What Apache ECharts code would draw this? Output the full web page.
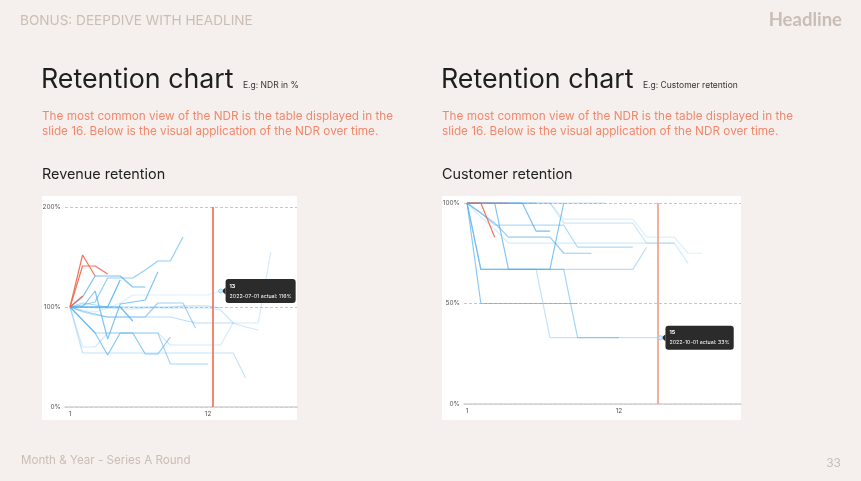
<!DOCTYPE html>
<html>
<head>
<meta charset="utf-8">
<script src="https://cdn.jsdelivr.net/npm/echarts@6/dist/echarts.min.js"></script>
<style>
html,body{margin:0;padding:0;background:#f5f0ed;}
#c{width:861px;height:481px;}
</style>
</head>
<body>
<div id="c"></div>
<script>
// ---------- DATA ----------
const cohortNames = ['2022-07-01','2022-08-01','2022-09-01','2022-10-01','2022-11-01','2022-12-01','2023-01-01','2023-02-01','2023-03-01','2023-04-01','2023-05-01','2023-06-01','2023-07-01','2023-08-01','2023-09-01','2023-10-01','2023-11-01'];
const xTickLabels = [1, 12];
const revYTicks = [0, 100, 200];
const custYTicks = [0, 50, 100];

// Revenue retention (%), one array per cohort, month 1..n
const rev2207 = [100, 97, 95, 99, 104, 112, 112, 112, 112, 112, 112, 112, 116, 116, 116, 116, 117, 105];
const rev2208 = [100, 60, 60, 74, 74, 74, 74, 74, 62, 62, 62, 62, 62, 84, 84, 84, 155];
const rev2209 = [100, 100, 99, 99, 98, 98, 99, 99, 99, 99, 99, 99, 97, 84, 80, 77];
const rev2210 = [100, 54, 54, 54, 54, 54, 54, 54, 54, 54, 54, 54, 54, 54, 29];
const rev2211 = [100, 95, 92, 90, 90, 90, 90, 90, 90, 87, 84, 84, 84, 84];
const rev2212 = [100, 104, 102, 100, 100, 100, 100, 100, 100, 101, 101, 101, 99];
const rev2301 = [100, 87, 74, 74, 74, 74, 74, 74, 43, 43, 43, 43];
const rev2302 = [100, 96, 93, 90, 90, 90, 90, 104, 104, 104, 79];
const rev2303 = [100, 102, 105, 129, 129, 129, 137, 146, 146, 170];
const rev2304 = [100, 87, 74, 52, 74, 74, 53, 53, 70];
const rev2305 = [100, 100, 116, 68, 103, 105, 107, 135];
const rev2306 = [100, 110, 131, 131, 131, 120, 120];
const rev2307 = [100, 100, 100, 100, 100, 86];
const rev2308 = [100, 100, 100, 100, 127];
const rev2309 = [100, 141, 141, 133];
const rev2310 = [100, 152, 131];
const rev2311 = [100, 111];

// Customer retention (%)
const cus2207 = [100, 100, 100, 100, 100, 100, 100, 92, 92, 92, 92, 92, 92, 83, 83, 83, 75, 75];
const cus2208 = [100, 93, 87, 80, 80, 80, 80, 80, 80, 80, 80, 80, 80, 80, 80, 80, 70];
const cus2209 = [100, 100, 100, 100, 100, 100, 100, 90, 90, 90, 90, 90, 90, 80, 80, 80];
const cus2210 = [100, 67, 67, 67, 67, 67, 33, 33, 33, 33, 33, 33, 33, 33, 33];
const cus2211 = [100, 67, 67, 67, 67, 67, 67, 67, 67, 67, 67, 67, 67, 78];
const cus2212 = [100, 95, 89, 89, 89, 89, 89, 89, 78, 78, 78, 78, 78];
const cus2301 = [100, 67, 67, 67, 67, 67, 67, 67, 33, 33, 33, 33];
const cus2302 = [100, 100, 100, 100, 100, 100, 100, 100, 100, 100, 100];
const cus2303 = [100, 95, 90, 83, 83, 83, 83, 75, 75, 75];
const cus2304 = [100, 50, 50, 50, 50, 50, 50, 50, 50];
const cus2305 = [100, 100, 100, 67, 67, 67, 67, 100];
const cus2306 = [100, 100, 100, 100, 100, 86, 86];
const cus2307 = [100, 100, 100, 100, 100, 100];
const cus2308 = [100, 100, 100, 100, 100];
const cus2309 = [100, 100, 100, 100];
const cus2310 = [100, 100, 83];
const cus2311 = [100, 100];

const revValues = [rev2207, rev2208, rev2209, rev2210, rev2211, rev2212, rev2301, rev2302, rev2303, rev2304, rev2305, rev2306, rev2307, rev2308, rev2309, rev2310, rev2311];
const cusValues = [cus2207, cus2208, cus2209, cus2210, cus2211, cus2212, cus2301, cus2302, cus2303, cus2304, cus2305, cus2306, cus2307, cus2308, cus2309, cus2310, cus2311];

const revTodayX = 12.4;
const cusTodayX = 14.8;
const revTip = { cohort: '2022-07-01', month: 13 };
const cusTip = { cohort: '2022-10-01', month: 15 };

// ---------- BUILD ----------
const RED_COUNT = 3;
function cohortSeries(values, gi) {
  const n = values.length;
  const nBlue = n - RED_COUNT;
  return values.map((vals, i) => {
    const isRed = i >= nBlue;
    const a = 0.19 + 0.68 * (i / (nBlue - 1));
    const color = isRed ? 'rgba(240,102,74,0.9)' : 'rgba(80,173,240,' + a.toFixed(3) + ')';
    return {
      type: 'line',
      name: cohortNames[i],
      xAxisIndex: gi, yAxisIndex: gi,
      data: vals.map((v, k) => [k + 1, v]),
      showSymbol: false, symbol: 'none',
      lineStyle: { color: color, width: 1.2 },
      itemStyle: { color: color },
      z: 2 + i * 0.01,
      silent: true,
      animation: false
    };
  });
}
function markerSeries(gi, x, color) {
  return {
    type: 'line', xAxisIndex: gi, yAxisIndex: gi, data: [], z: 5, silent: true, animation: false,
    markLine: { silent: true, symbol: 'none', animation: false, label: { show: false },
      lineStyle: { color: color, width: 1.6, type: 'solid' }, data: [{ xAxis: x }] }
  };
}
function tipSeries(gi, values, tip) {
  const idx = cohortNames.indexOf(tip.cohort);
  const val = values[idx][tip.month - 1];
  const text = '{a|' + tip.month + '}\n{b|' + tip.cohort + ' actual: ' + val + '%}';
  return {
    type: 'line', xAxisIndex: gi, yAxisIndex: gi, data: [], z: 20, silent: true, animation: false,
    markPoint: { silent: true, animation: false, data: [
      { coord: [tip.month, val], symbol: 'triangle', symbolRotate: 90, symbolSize: [7, 4], symbolOffset: [3, 0],
        itemStyle: { color: '#2b2b2b' }, label: { show: false } },
      { coord: [tip.month, val], symbol: 'circle', symbolSize: 4,
        itemStyle: { color: '#d6ecfc', borderColor: '#9fd0f5', borderWidth: 1 },
        label: { show: true, position: 'right', distance: 2.5, formatter: text,
          backgroundColor: '#2b2b2b', borderRadius: 3, padding: [2, 4, 2, 4],
          rich: {
            a: { color: '#fff', fontSize: 5.3, fontWeight: 'bold', lineHeight: 10, fontFamily: 'Inter' },
            b: { color: '#fff', fontSize: 5.3, lineHeight: 10, fontFamily: 'Inter' }
          } } }
    ] }
  };
}

const axisLabelStyle = { fontSize: 6.5, color: '#555', fontFamily: 'Inter' };
function xAxisCfg(gi, min, max) {
  return {
    type: 'value', gridIndex: gi, min: min, max: max,
    axisLine: { show: true, lineStyle: { color: '#d2d2d2', width: 1.6 } },
    axisTick: { show: false },
    splitLine: { show: false },
    axisLabel: Object.assign({ customValues: xTickLabels, margin: 4 }, axisLabelStyle)
  };
}
function yAxisCfg(gi, ticks) {
  return {
    type: 'value', gridIndex: gi, min: ticks[0], max: ticks[ticks.length - 1], interval: ticks[1] - ticks[0],
    axisLine: { show: false }, axisTick: { show: false },
    splitLine: { show: true, lineStyle: { color: '#b8b8b8', type: [3, 2], width: 0.8 } },
    axisLabel: Object.assign({ formatter: '{value}%', margin: 4 }, axisLabelStyle)
  };
}

const FONT = 'Inter';
function txt(x, y, text, size, color, opts) {
  return {
    type: 'text', x: x, y: y, z: 50, silent: true,
    style: { text: text, fill: color, font: (opts && opts.weight ? opts.weight + ' ' : '') + size + 'px ' + (opts && opts.family ? opts.family : FONT),
      textAlign: (opts && opts.align) || 'left', textVerticalAlign: 'middle' }
  };
}

const headerGray = '#c9bdb5';
const orange = '#f3876b';
const dark = '#1f1f1f';

const graphics = [
  { type: 'rect', shape: { x: 42, y: 196, width: 255, height: 224 }, style: { fill: '#ffffff' }, z: -10, silent: true },
  { type: 'rect', shape: { x: 442, y: 196, width: 299, height: 224 }, style: { fill: '#ffffff' }, z: -10, silent: true },
  txt(20, 20.5, 'BONUS: DEEPDIVE WITH HEADLINE', 13.6, headerGray),
  txt(842, 20.5, 'Headline', 18.5, headerGray, { weight: 'bold', align: 'right', family: 'Lato' }),
  txt(41, 80, 'Retention chart', 26.8, dark),
  txt(243, 85.5, 'E.g: NDR in %', 8.5, '#333'),
  txt(42, 116.5, 'The most common view of the NDR is the table displayed in the', 11.75, orange),
  txt(42, 131.5, 'slide 16. Below is the visual application of the NDR over time.', 11.75, orange),
  txt(42, 174.5, 'Revenue retention', 14.4, dark),
  txt(441, 80, 'Retention chart', 26.8, dark),
  txt(643, 85.5, 'E.g: Customer retention', 8.5, '#333'),
  txt(442, 116.5, 'The most common view of the NDR is the table displayed in the', 11.75, orange),
  txt(442, 131.5, 'slide 16. Below is the visual application of the NDR over time.', 11.75, orange),
  txt(442, 174.5, 'Customer retention', 14.4, dark),
  txt(21, 461, 'Month & Year - Series A Round', 11.6, headerGray),
  txt(841, 463.5, '33', 12, headerGray, { align: 'right' })
];

const option = {
  backgroundColor: '#f5f0ed',
  animation: false,
  graphic: { elements: graphics },
  grid: [
    { left: 65, top: 207, width: 232, height: 200 },
    { left: 464, top: 203, width: 277, height: 201 }
  ],
  xAxis: [ xAxisCfg(0, 0.6, 19.09), xAxisCfg(1, 0.78, 20.83) ],
  yAxis: [ yAxisCfg(0, revYTicks), yAxisCfg(1, custYTicks) ],
  series: [].concat(
    cohortSeries(revValues, 0),
    cohortSeries(cusValues, 1),
    [ markerSeries(0, revTodayX, '#f2694d'), markerSeries(1, cusTodayX, '#f59a80'),
      tipSeries(0, revValues, revTip), tipSeries(1, cusValues, cusTip) ]
  )
};

const chart = echarts.init(document.getElementById('c'), null, { renderer: 'canvas' });
chart.setOption(option);
</script>
</body>
</html>
